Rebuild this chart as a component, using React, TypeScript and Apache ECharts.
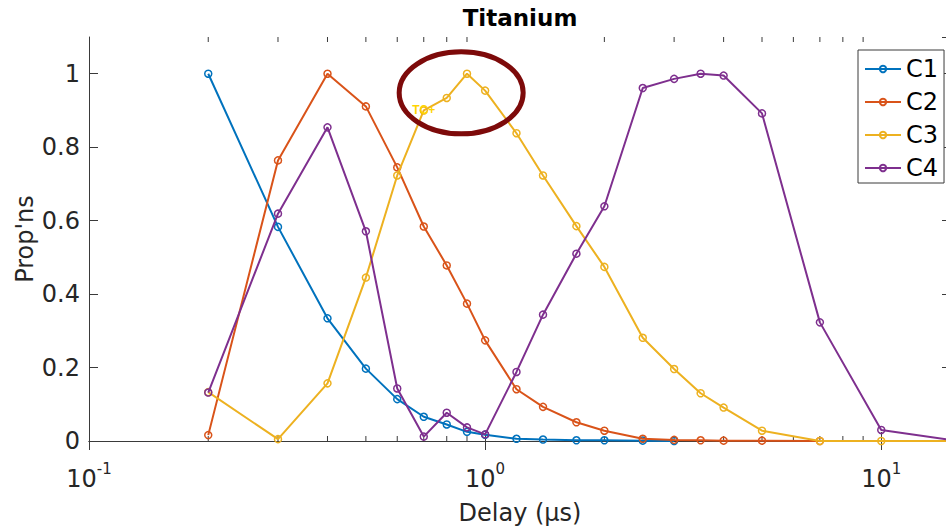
import React, { useEffect, useRef } from 'react';
import * as echarts from 'echarts';

const delays = [0.2, 0.3, 0.4, 0.5, 0.6, 0.7, 0.8, 0.9, 1.0, 1.2, 1.4, 1.7, 2.0, 2.5, 3.0, 3.5, 4.0, 5.0, 7.0, 10, 15];
const c1 = [1.0, 0.583, 0.334, 0.197, 0.114, 0.066, 0.045, 0.025, 0.017, 0.006, 0.004, 0.002, 0.002, 0.001, 0.0];
const c2 = [0.016, 0.764, 1.0, 0.911, 0.745, 0.584, 0.478, 0.374, 0.274, 0.141, 0.093, 0.051, 0.028, 0.006, 0.003, 0.002, 0.001, 0.001, 0.0];
const c3 = [0.133, 0.005, 0.157, 0.445, 0.723, 0.9, 0.934, 1.0, 0.954, 0.838, 0.723, 0.585, 0.474, 0.281, 0.196, 0.13, 0.091, 0.028, 0.0, 0.0, 0.0];
const c4 = [0.132, 0.619, 0.854, 0.571, 0.143, 0.012, 0.077, 0.037, 0.018, 0.188, 0.344, 0.51, 0.639, 0.961, 0.986, 1.0, 0.995, 0.892, 0.323, 0.03, 0.003];
const seriesNames = ['C1', 'C2', 'C3', 'C4'];
const seriesValues = [c1, c2, c3, c4];
const colors = ['#0072BD', '#D95319', '#EDB120', '#7E2F8E'];
const minorTicks = [0.2, 0.3, 0.4, 0.5, 0.6, 0.7, 0.8, 0.9, 2, 3, 4, 5, 6, 7, 8, 9];
const annotatedIndex = 5; // C3 point labelled "TC+"
const annotationLabel = 'TC+';
const ellipseCenter = [0.87, 0.948];

const FONT = 'DejaVu Sans';
const AX = '#3a3a3a';
const TXT = '#262626';

const isDecade = (v: number) => Math.abs(Math.log10(v) - Math.round(Math.log10(v))) < 1e-6;

export default function App() {
  const ref = useRef<HTMLDivElement>(null);
  useEffect(() => {
    const chart = echarts.init(ref.current!, null, { renderer: 'svg' });
    const lineSeries = seriesNames.map((name, si) => ({
      name,
      type: 'line',
      xAxisIndex: 0,
      yAxisIndex: 0,
      z: 3 + si,
      symbol: 'circle',
      symbolSize: 7,
      color: colors[si],
      lineStyle: { color: colors[si], width: 2 },
      itemStyle: { color: 'rgba(255,255,255,0)', borderColor: colors[si], borderWidth: 1.5 },
      emphasis: { disabled: true },
      data: seriesValues[si].map((v, i) => {
        if (si === 2 && i === annotatedIndex) {
          return {
            value: [delays[i], v],
            label: {
              show: true,
              formatter: annotationLabel,
              position: 'inside',
              color: '#FFD400',
              fontSize: 12,
              fontWeight: 'bold',
              fontFamily: 'Liberation Sans',
            },
          };
        }
        return [delays[i], v];
      }),
    }));

    const minorSeries = {
      name: 'minor',
      type: 'custom',
      xAxisIndex: 0,
      yAxisIndex: 0,
      silent: true,
      z: 1,
      data: minorTicks.map((v) => [v]),
      renderItem: (params: any, api: any) => {
        const v = api.value(0);
        const pb = api.coord([v, 0]);
        const pt = api.coord([v, 1.1]);
        return {
          type: 'group',
          children: [
            { type: 'line', shape: { x1: pb[0], y1: pb[1], x2: pb[0], y2: pb[1] - 5 }, style: { stroke: AX, lineWidth: 1 } },
            { type: 'line', shape: { x1: pt[0], y1: pt[1], x2: pt[0], y2: pt[1] + 5 }, style: { stroke: AX, lineWidth: 1 } },
          ],
        };
      },
    };

    const option: any = {
      animation: false,
      backgroundColor: '#ffffff',
      grid: { left: 89, top: 37, right: -5, bottom: 85, containLabel: false, outerBoundsMode: 'none' },
      legend: {
        data: seriesNames,
        orient: 'vertical',
        left: 858,
        top: 50,
        padding: [7, 6, 3, 6],
        itemGap: 9,
        itemWidth: 36,
        itemHeight: 8,
        backgroundColor: '#ffffff',
        borderColor: AX,
        borderWidth: 1,
        borderRadius: 0,
        textStyle: { fontFamily: FONT, fontSize: 24, color: '#000', lineHeight: 24 },
      },
      xAxis: [
        {
          type: 'log',
          logBase: 10,
          min: 0.1,
          max: 15,
          position: 'bottom',
          name: 'Delay (μs)',
          nameLocation: 'middle',
          nameGap: 60,
          nameMoveOverlap: false,
          nameTextStyle: { fontFamily: FONT, fontSize: 24, color: TXT },
          axisLine: { show: true, lineStyle: { color: AX, width: 1 } },
          axisTick: { show: true, inside: true, length: 9, lineStyle: { color: AX } },
          minorTick: { show: false },
          splitLine: { show: false },
          axisLabel: {
            margin: 20,
            showMaxLabel: false,
            formatter: (v: number) => (isDecade(v) ? `{b|10}{s|${Math.round(Math.log10(v))}}` : ''),
            rich: {
              b: { fontFamily: FONT, fontSize: 24, color: TXT, lineHeight: 30, verticalAlign: 'bottom' },
              s: { fontFamily: FONT, fontSize: 15, color: TXT, lineHeight: 8, verticalAlign: 'top' },
            },
          },
        },
        {
          type: 'log',
          logBase: 10,
          min: 0.1,
          max: 15,
          position: 'top',
          axisLine: { show: true, lineStyle: { color: AX, width: 1 } },
          axisTick: { show: true, inside: true, length: 9, lineStyle: { color: AX } },
          axisLabel: { show: false },
          splitLine: { show: false },
        },
      ],
      yAxis: [
        {
          type: 'value',
          min: 0,
          max: 1.1,
          interval: 0.2,
          position: 'left',
          name: "Prop'ns",
          nameLocation: 'middle',
          nameGap: 52,
          nameMoveOverlap: false,
          nameRotate: 90,
          nameTextStyle: { fontFamily: FONT, fontSize: 24, color: TXT },
          axisLine: { show: true, lineStyle: { color: AX, width: 1 } },
          axisTick: { show: true, inside: true, length: 9, lineStyle: { color: AX } },
          splitLine: { show: false },
          axisLabel: {
            margin: 9,
            showMaxLabel: false,
            fontFamily: FONT,
            fontSize: 24,
            color: TXT,
            formatter: (v: number) => (v > 1.05 ? '' : String(Math.round(v * 10) / 10)),
          },
        },
        {
          type: 'value',
          min: 0,
          max: 1.1,
          interval: 0.2,
          position: 'right',
          axisLine: { show: true, lineStyle: { color: AX, width: 1 } },
          axisTick: { show: true, inside: true, length: 9, lineStyle: { color: AX } },
          axisLabel: { show: false },
          splitLine: { show: false },
        },
      ],
      series: [minorSeries, ...lineSeries],
    };
    chart.setOption(option);

    const c = chart.convertToPixel({ xAxisIndex: 0, yAxisIndex: 0 }, ellipseCenter) as number[];
    const leftPx = chart.convertToPixel({ xAxisIndex: 0 }, 0.1) as number;
    const rightPx = chart.convertToPixel({ xAxisIndex: 0 }, 15) as number;
    chart.setOption({
      graphic: [
        {
          type: 'text',
          x: (leftPx + rightPx) / 2,
          y: 18,
          style: {
            text: 'Titanium',
            fontFamily: FONT,
            fontSize: 23,
            fontWeight: 'bold',
            fill: '#000',
            textAlign: 'center',
            textVerticalAlign: 'middle',
          },
        },
        {
          type: 'ellipse',
          z: 100,
          shape: { cx: c[0], cy: c[1], rx: 62, ry: 41 },
          style: { fill: 'none', stroke: '#7d0a0a', lineWidth: 5 },
        },
      ],
    });
    return () => chart.dispose();
  }, []);
  return <div ref={ref} style={{ position: 'fixed', left: 0, top: 0, width: 946, height: 526 }} />;
}
